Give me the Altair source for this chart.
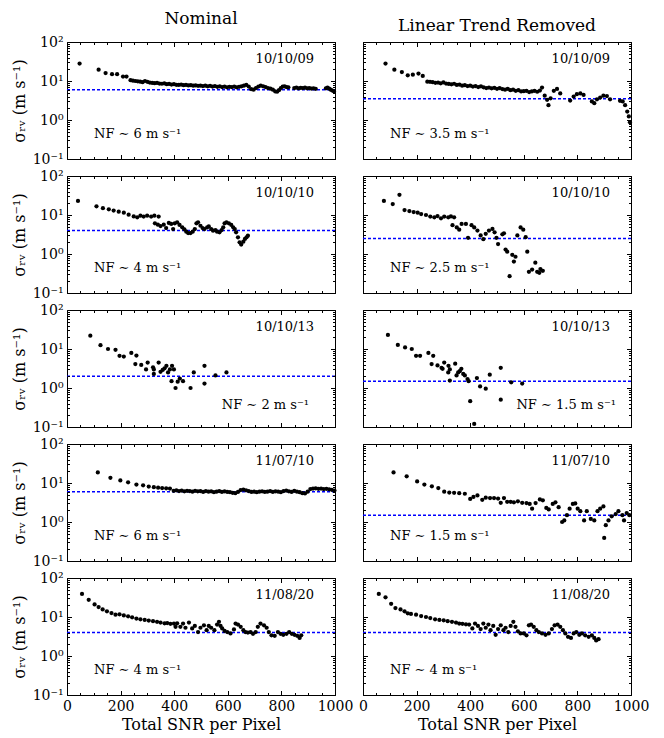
import altair as alt
import pandas as pd

SERIF = "DejaVu Serif"
W, H = 268, 117
MAJ, MIN = 4.5, 2.5

COL_TITLES = ["Nominal", "Linear Trend Removed"]
DATES = ["10/10/09", "10/10/10", "10/10/13", "11/07/10", "11/08/20"]
NF_NOMINAL = [6, 4, 2, 6, 4]
NF_DETREND = [3.5, 2.5, 1.5, 1.5, 4]
NF_NOMINAL_TEXT = ["6", "4", "2", "6", "4"]
NF_DETREND_TEXT = ["3.5", "2.5", "1.5", "1.5", "4"]
NF_TEXT_RIGHT = [False, False, True, False, False]

X_MAJOR = [0, 200, 400, 600, 800, 1000]
X_MINOR = [0, 50, 100, 150, 200, 250, 300, 350, 400, 450, 500, 550, 600, 650,
           700, 750, 800, 850, 900, 950, 1000]
Y_MAJOR = [0.1, 1, 10, 100]
Y_MINOR = [0.2, 0.3, 0.4, 0.5, 0.6, 0.7, 0.8, 0.9, 2, 3, 4, 5, 6, 7, 8, 9,
           20, 30, 40, 50, 60, 70, 80, 90]
Y_LABELS = ["10⁻¹", "10⁰", "10¹", "10²"]
X_TITLE = "Total SNR per Pixel"
Y_TITLE = "σᵣᵥ (m s⁻¹)"

# (Total SNR per pixel, sigma_RV)
NOM_0909 = [(47, 28), (118, 19.5), (144, 16), (168, 15), (187, 15), (209, 13), (222, 13),
            (237, 10.5), (246, 10.2), (255, 10), (264, 9.8), (273, 9.6), (282, 9.3), (291, 10),
            (300, 9.5), (309, 9.1), (318, 8.9), (327, 8.8), (336, 8.9), (345, 8.6), (354, 8.5),
            (363, 8.7), (372, 8.3), (381, 8.4), (390, 8.1), (399, 8.3), (408, 8.0), (417, 7.9),
            (426, 8.1), (435, 7.8), (444, 7.9), (453, 7.7), (462, 7.8), (471, 7.6), (480, 7.7),
            (489, 7.5), (498, 7.6), (507, 7.4), (516, 7.6), (525, 7.3), (534, 7.5), (543, 7.2),
            (552, 7.4), (561, 7.1), (570, 7.3), (579, 7.0), (588, 7.2), (597, 6.9), (606, 7.1),
            (615, 7.0), (624, 7.2), (633, 6.9), (642, 7.1), (651, 7.3), (660, 7.6), (669, 8.0),
            (678, 7.2), (687, 6.2), (696, 6.0), (705, 6.6), (714, 7.2), (723, 7.6), (732, 7.3),
            (741, 7.0), (750, 6.6), (759, 6.4), (768, 6.0), (777, 5.4), (784, 5.3), (791, 5.8),
            (798, 6.6), (805, 7.2), (812, 7.3), (819, 7.0), (826, 6.9), (848, 6.6), (856, 6.8),
            (864, 6.5), (872, 6.7), (880, 6.6), (888, 6.8), (896, 6.5), (904, 6.6), (912, 6.4),
            (920, 6.5), (928, 6.3), (966, 6.5), (972, 6.8), (978, 6.4), (984, 6.0), (990, 5.7),
            (996, 5.5)]
DET_0909 = [(84, 28), (117, 19.5), (145, 17), (167, 14), (186, 14.5), (207, 15.5), (223, 13.5),
            (240, 9.6), (250, 9.5), (260, 9.3), (270, 9.0), (280, 9.1), (290, 8.7), (300, 9.2),
            (310, 8.6), (320, 8.4), (330, 8.2), (340, 8.5), (350, 7.9), (360, 8.1), (370, 7.6),
            (380, 7.8), (390, 7.4), (400, 7.6), (410, 7.2), (420, 7.4), (430, 7.0), (440, 7.3),
            (450, 6.9), (460, 6.6), (470, 6.8), (480, 6.5), (490, 6.7), (500, 6.3), (510, 6.6),
            (520, 6.2), (530, 6.0), (540, 6.3), (550, 5.8), (560, 6.0), (570, 5.6), (580, 5.8),
            (590, 5.4), (600, 5.5), (610, 5.6), (620, 5.2), (630, 5.4), (640, 5.6), (650, 5.3),
            (660, 5.7), (668, 6.8), (678, 4.2), (687, 3.3), (692, 2.4), (700, 3.6), (712, 5.6),
            (724, 6.25), (736, 4.8), (773, 3.15), (786, 4.0), (798, 4.6), (811, 4.8), (823, 4.4),
            (854, 3.0), (863, 2.7), (873, 3.4), (885, 3.75), (897, 4.2), (910, 4.1), (922, 3.4),
            (959, 3.1), (969, 3.0), (978, 2.4), (986, 1.65), (992, 1.23), (996, 0.88)]
NOM_1010 = [(41, 23), (110, 16.7), (134, 15), (156, 14), (174, 13), (193, 12.2), (212, 11.5),
            (230, 10.2), (249, 9.2), (262, 8.7), (274, 9.6), (286, 9.1), (299, 9.6), (314, 9.1),
            (326, 9.6), (342, 9.1), (328, 6.1), (339, 5.65), (349, 5.2), (361, 5.65), (370, 4.64),
            (380, 6.24), (389, 5.9), (396, 4.37), (402, 6.1), (411, 6.5), (420, 5.55), (430, 4.83),
            (438, 4.29), (445, 3.74), (452, 3.45), (461, 3.45), (469, 3.74), (477, 4.37), (483, 6.1),
            (489, 6.5), (498, 5.3), (506, 4.64), (513, 4.37), (523, 4.83), (529, 5.1), (538, 4.37),
            (545, 3.96), (554, 4.12), (560, 3.74), (569, 3.6), (577, 4.12), (583, 4.83), (588, 6.1),
            (595, 6.5), (604, 6.1), (613, 5.55), (620, 4.83), (626, 4.37), (631, 3.6), (638, 2.67),
            (644, 2.0), (650, 1.74), (658, 2.07), (664, 2.43), (670, 2.67), (675, 2.95)]
DET_1010 = [(78, 23), (111, 19.1), (136, 33), (155, 13.4), (173, 12.6), (189, 11.9), (204, 11.5),
            (217, 10.6), (235, 10), (251, 9.1), (266, 8.7), (278, 9.4), (291, 8.2), (303, 9.1),
            (318, 8.7), (328, 9.2), (340, 8.7), (334, 5.5), (350, 4.8), (359, 4.2), (368, 5.9),
            (384, 5.9), (392, 2.6), (405, 5.5), (415, 4.8), (427, 4.0), (439, 3.0), (449, 2.4),
            (458, 3.3), (470, 4.0), (483, 4.4), (491, 3.6), (498, 2.6), (504, 1.8), (520, 3.2),
            (526, 3.4), (532, 1.3), (538, 1.15), (547, 0.27), (557, 0.95), (563, 0.64), (569, 0.85),
            (576, 3.0), (588, 4.8), (598, 4.2), (607, 2.7), (613, 1.15), (619, 0.35), (631, 0.4),
            (643, 0.6), (650, 0.35), (658, 0.33), (662, 0.41), (671, 0.37)]
NOM_1013 = [(87, 22), (125, 12.5), (153, 10), (181, 9.5), (196, 6.7), (212, 6.4), (240, 7.9),
            (259, 6.8), (255, 4.1), (277, 3.9), (295, 3.0), (301, 4.5), (321, 3.4), (324, 2.3),
            (324, 3.0), (342, 4.5), (349, 2.6), (357, 2.9), (364, 3.2), (371, 3.7), (377, 2.5),
            (384, 3.0), (392, 3.7), (399, 3.0), (390, 1.5), (405, 1.0), (413, 1.45), (421, 1.75),
            (433, 1.5), (461, 1.0), (473, 2.5), (513, 3.7), (513, 1.3), (554, 2.1), (595, 2.5)]
DET_1013 = [(93, 23), (130, 12.7), (157, 11), (182, 10), (198, 6.7), (213, 6.7), (244, 7.9),
            (262, 6.7), (256, 4.1), (278, 3.8), (293, 3.3), (297, 3.1), (303, 4.5), (319, 3.7),
            (324, 3.0), (318, 2.5), (324, 1.55), (344, 4.2), (349, 2.1), (355, 2.5), (361, 2.7),
            (367, 3.1), (374, 2.3), (380, 2.1), (390, 1.7), (394, 1.5), (400, 0.46), (415, 0.12),
            (425, 1.8), (437, 1.1), (458, 0.96), (473, 2.2), (514, 3.3), (514, 0.5), (553, 1.4),
            (594, 1.3)]
NOM_1107 = [(115, 18.7), (162, 13.6), (199, 11.6), (228, 10.4), (259, 9.1), (284, 8.7), (305, 8.1),
            (324, 7.8), (340, 7.6), (355, 7.4), (370, 7.3), (384, 7.2), (398, 6.3), (408, 6.5),
            (418, 6.2), (428, 6.4), (438, 6.1), (448, 6.3), (458, 6.2), (468, 6.0), (478, 6.3),
            (488, 6.1), (498, 6.2), (508, 5.9), (518, 6.2), (528, 6.0), (538, 6.1), (548, 5.8),
            (558, 6.0), (568, 6.2), (578, 5.9), (588, 6.1), (598, 5.9), (608, 5.8), (618, 5.6),
            (628, 5.5), (638, 5.9), (648, 6.6), (658, 6.8), (668, 6.5), (678, 6.2), (688, 5.9),
            (698, 6.0), (708, 5.8), (718, 6.0), (728, 6.1), (738, 5.9), (748, 6.0), (758, 6.2),
            (768, 5.9), (778, 6.1), (788, 6.0), (798, 5.8), (808, 6.2), (818, 6.4), (828, 6.1),
            (838, 5.9), (848, 6.3), (858, 6.0), (868, 5.8), (878, 5.5), (888, 5.4), (898, 6.0),
            (908, 7.0), (918, 7.2), (928, 7.3), (938, 7.1), (948, 7.2), (958, 7.0), (968, 7.1),
            (978, 6.9), (988, 6.7), (998, 6.4)]
DET_1107 = [(114, 18.7), (163, 14.8), (202, 11), (229, 9.1), (257, 8.2), (281, 7.4), (303, 6.0),
            (322, 5.7), (340, 5.6), (359, 5.5), (380, 5.3), (400, 3.9), (412, 4.4), (427, 4.8),
            (445, 3.7), (458, 4.2), (474, 4.1), (489, 4.1), (504, 4.0), (514, 3.1), (526, 4.1),
            (538, 3.3), (551, 3.3), (563, 3.2), (578, 3.4), (594, 3.1), (610, 3.05), (622, 2.9),
            (631, 2.2), (644, 3.05), (660, 3.8), (671, 3.6), (684, 2.3), (693, 2.1), (708, 2.9),
            (718, 3.2), (730, 2.4), (743, 1.0), (751, 1.1), (761, 1.5), (771, 2.2), (783, 2.9),
            (792, 3.0), (801, 2.2), (811, 1.9), (825, 1.1), (835, 1.9), (850, 1.2), (863, 1.1),
            (875, 1.9), (885, 2.2), (897, 2.5), (900, 0.39), (906, 0.83), (916, 1.1), (928, 1.4),
            (943, 1.6), (953, 1.9), (968, 1.5), (974, 1.1), (984, 1.7), (994, 1.5)]
NOM_1120 = [(56, 39), (81, 27.6), (103, 21), (118, 18), (133, 15.6), (149, 14), (166, 12.6),
            (181, 11.5), (196, 11.7), (212, 11), (228, 10.4), (243, 9.8), (259, 9.1), (274, 8.7),
            (290, 8.4), (305, 8.1), (321, 7.8), (336, 7.5), (349, 7.2), (364, 6.9), (374, 7.0),
            (386, 6.7), (399, 6.8), (405, 5.6), (411, 6.9), (423, 5.6), (433, 6.8), (442, 5.3),
            (455, 7.2), (467, 5.1), (477, 5.9), (489, 4.1), (498, 5.3), (511, 6.1), (521, 4.6),
            (529, 5.9), (538, 5.3), (550, 4.6), (560, 6.4), (567, 7.5), (573, 5.9), (579, 5.1),
            (588, 4.4), (598, 4.1), (610, 3.8), (623, 4.8), (629, 6.8), (638, 6.4), (648, 5.6),
            (658, 4.6), (666, 4.1), (675, 4.0), (685, 4.1), (694, 3.7), (704, 4.1), (712, 5.6),
            (722, 6.8), (735, 6.1), (745, 5.3), (753, 4.1), (763, 3.4), (775, 3.3), (787, 4.1),
            (797, 3.7), (807, 3.5), (819, 3.7), (829, 4.1), (839, 3.7), (849, 3.5), (859, 3.3),
            (868, 2.9), (874, 3.4)]
DET_1120 = [(59, 39), (84, 32), (105, 21.8), (121, 16.9), (140, 15.6), (155, 14), (167, 12.4),
            (179, 12.0), (198, 11.5), (217, 10.6), (235, 10), (251, 9.4), (269, 8.7), (285, 8.4),
            (301, 8.2), (316, 7.8), (332, 7.5), (347, 7.2), (359, 6.8), (371, 6.7), (384, 6.5),
            (396, 6.4), (408, 5.1), (418, 6.8), (429, 5.9), (439, 4.9), (449, 6.8), (458, 5.3),
            (468, 6.4), (476, 4.6), (486, 5.9), (495, 3.5), (504, 4.9), (514, 6.1), (524, 4.6),
            (532, 5.3), (542, 4.1), (551, 5.9), (561, 7.5), (569, 5.6), (578, 4.3), (588, 3.8),
            (600, 3.8), (610, 3.4), (619, 6.1), (627, 6.4), (637, 5.6), (647, 4.6), (656, 4.1),
            (668, 3.8), (681, 3.5), (693, 3.8), (705, 4.9), (715, 6.1), (726, 6.4), (736, 5.6),
            (746, 4.6), (755, 3.8), (765, 3.1), (776, 2.9), (786, 3.8), (796, 4.1), (807, 3.5),
            (817, 3.8), (829, 3.4), (842, 3.1), (854, 3.4), (863, 2.9), (870, 2.5), (879, 2.7)]

NOMINAL = [NOM_0909, NOM_1010, NOM_1013, NOM_1107, NOM_1120]
DETREND = [DET_0909, DET_1010, DET_1013, DET_1107, DET_1120]

Y_LABEL_EXPR = ("datum.value >= 50 ? '{3}' : datum.value >= 5 ? '{2}' : "
                "datum.value >= 0.5 ? '{1}' : '{0}'").format(*Y_LABELS)


def axis(orient, values, size, labels=False, title=None, **kw):
    return alt.Axis(orient=orient, values=values, tickSize=size, offset=-size,
                    domain=False, grid=False, labels=labels, title=title, ticks=True,
                    tickColor="black", tickWidth=1, tickOpacity=1, zindex=2,
                    labelFont=SERIF, titleFont=SERIF, labelColor="black",
                    titleColor="black", titleFontWeight="normal", **kw)


def panel(points, nf, nf_value_text, date, text_right, left, bottom, title=None):
    df = pd.DataFrame(points, columns=["snr", "sigma"])
    xs = alt.Scale(domain=[0, 1000], nice=False, zero=False)
    ys = alt.Scale(type="log", domain=[0.1, 100], nice=False)
    x_major = axis("bottom", X_MAJOR, MAJ, labels=bottom,
                   title=X_TITLE if bottom else None, format="d",
                   labelFontSize=14, labelPadding=4, labelFlush=False,
                   titleFontSize=16, titlePadding=3)
    y_major = axis("left", Y_MAJOR, MAJ, labels=left,
                   title=Y_TITLE if left else None,
                   labelExpr=Y_LABEL_EXPR, labelFontSize=14, labelPadding=4,
                   titleFontSize=16, titlePadding=5)
    pairs = [
        (x_major, y_major),
        (axis("bottom", X_MINOR, MIN), axis("left", Y_MINOR, MIN)),
        (axis("top", X_MAJOR, MAJ), axis("right", Y_MAJOR, MAJ)),
        (axis("top", X_MINOR, MIN), axis("right", Y_MINOR, MIN)),
    ]
    base = alt.Chart(df)
    layers = []
    for xa, ya in pairs:
        layers.append(base.mark_point(opacity=0, size=1).encode(
            x=alt.X("snr:Q", scale=xs, axis=xa),
            y=alt.Y("sigma:Q", scale=ys, axis=ya)))
    rule = alt.Chart(pd.DataFrame({"nf": [nf]})).mark_rule(
        color="#0000ff", strokeDash=[3, 2], strokeWidth=1.5
    ).encode(y=alt.Y("nf:Q", scale=ys, axis=None))
    pts = base.mark_circle(size=18, color="black", opacity=1).encode(
        x=alt.X("snr:Q", scale=xs, axis=None),
        y=alt.Y("sigma:Q", scale=ys, axis=None))
    date_txt = alt.Chart(pd.DataFrame({"t": [date]})).mark_text(
        align="right", baseline="middle", font=SERIF, fontSize=13, color="black"
    ).encode(x=alt.value(W - 21), y=alt.value(17), text="t:N")
    nf_label = "NF ∼ " + nf_value_text + " m s⁻¹"
    if text_right:
        nf_txt = alt.Chart(pd.DataFrame({"t": [nf_label]})).mark_text(
            align="right", baseline="middle", font=SERIF, fontSize=13, color="black"
        ).encode(x=alt.value(W - (26 if left else 15)), y=alt.value(H - 22), text="t:N")
    else:
        nf_txt = alt.Chart(pd.DataFrame({"t": [nf_label]})).mark_text(
            align="left", baseline="middle", font=SERIF, fontSize=13, color="black"
        ).encode(x=alt.value(27), y=alt.value(H - 25), text="t:N")
    ch = alt.layer(*layers, rule, pts, date_txt, nf_txt).resolve_axis(
        x="independent", y="independent")
    props = dict(width=W, height=H)
    if title:
        props["title"] = alt.TitleParams(text=title, font=SERIF, fontSize=17,
                                         fontWeight="normal", anchor="middle",
                                         frame="group", offset=7, color="black")
    return ch.properties(**props)


panels = []
for i in range(5):
    bottom = i == 4
    panels.append(panel(NOMINAL[i], NF_NOMINAL[i], NF_NOMINAL_TEXT[i], DATES[i],
                        NF_TEXT_RIGHT[i], True, bottom,
                        COL_TITLES[0] if i == 0 else None))
    panels.append(panel(DETREND[i], NF_DETREND[i], NF_DETREND_TEXT[i], DATES[i],
                        NF_TEXT_RIGHT[i], False, bottom,
                        COL_TITLES[1] if i == 0 else None))

chart = alt.concat(*panels, columns=2, spacing={"row": 17, "column": 28},
                   bounds="flush").properties(
    padding={"left": 2, "top": 1, "right": 5, "bottom": 5},
    background="white",
).configure_view(stroke="black", strokeWidth=1).configure_axis(
    labelFont=SERIF, titleFont=SERIF, labelColor="black", titleColor="black",
    titleFontWeight="normal"
)

chart.save("out.html", embed_options={"renderer": "svg", "actions": False})
